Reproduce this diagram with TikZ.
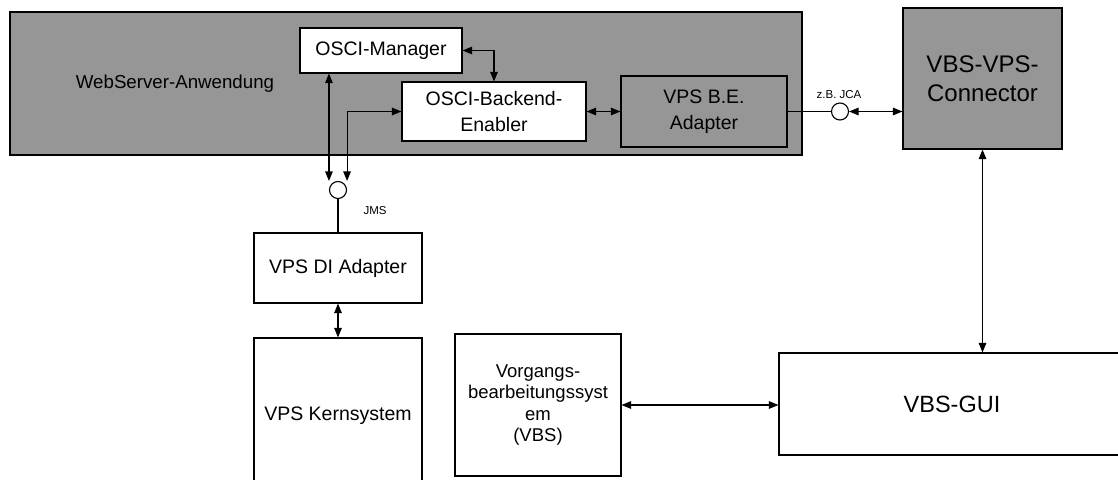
\documentclass[tikz,border=0pt]{standalone}
\usepackage{fontspec}
\setmainfont{Liberation Sans}
\usetikzlibrary{arrows.meta}
\definecolor{serverGrey}{RGB}{150,150,150}

\begin{document}
\begin{tikzpicture}[x=1pt, y=-1pt,
  box/.style={draw, line width=1.1pt, fill=white, align=center, inner sep=0pt,
    font=\fontsize{19.5}{26}\selectfont},
  greybox/.style={box, fill=serverGrey},
  conn/.style={line width=1.1pt,
    {Triangle[length=9.5pt,width=7.5pt]}-{Triangle[length=9.5pt,width=7.5pt]}},
  wire/.style={line width=1.1pt},
  iface/.style={draw, circle, line width=1.1pt, fill=white, minimum size=17pt, inner sep=0pt},
  tag/.style={inner sep=0pt, font=\fontsize{11.5}{13}\selectfont}]
\clip (0,0) rectangle (1118,479);
\fill[white] (0,0) rectangle (1118,479);

% web server application with its parts
\node[greybox, minimum width=792pt, minimum height=143pt] (server) at (406,83.5) {};
\node[inner sep=0pt, font=\fontsize{18.7}{22}\selectfont] (serverlabel) at (175,84) {WebServer-Anwendung};
\node[box, minimum width=162pt, minimum height=45pt] (manager) at (381,50.5) {OSCI-Manager};
\node[box, minimum width=184pt, minimum height=59pt] (backend) at (494,111.5) {OSCI-Backend-\\Enabler};
\node[greybox, minimum width=166pt, minimum height=71pt] (beadapter) at (704,111.5) {VPS B.E.\\Adapter};

\node[greybox, minimum width=159pt, minimum height=141pt,
  font=\fontsize{24}{29}\selectfont] (connector) at (982.5,78.5) {VBS-VPS-\\Connector};

% VPS side, the core system runs off the bottom
\node[box, minimum width=168pt, minimum height=70pt] (diadapter) at (338,268) {VPS DI Adapter};
\node[box, minimum width=168pt, minimum height=160pt] (kern) at (338,418) {\raisebox{9pt}{VPS Kernsystem}};

% VBS side
\node[box, minimum width=166pt, minimum height=142pt,
  font=\fontsize{18.5}{21.5}\selectfont] (vbs) at (538,405) {Vorgangs-\\bearbeitungssyst\\em\\(VBS)};
\node[box, minimum width=346pt, minimum height=102pt,
  font=\fontsize{23.5}{28}\selectfont] (gui) at (952,404) {VBS-GUI};

% interfaces
\node[iface] (jms) at (338,190) {};
\node[tag] (jmslabel) at (375,211) {JMS};
\node[iface] (jca) at (840,111.5) {};
\node[tag] (jcalabel) at (839,95) {z.B. JCA};

% connections
\draw[conn] (manager.south -| jms.west) -- (jms.west |- jms.north);
\draw[conn] (jms.east |- jms.north) |- (backend.west);
\draw[conn] (manager.east) -| (backend.north);
\draw[conn] (backend) -- (beadapter);
\draw[wire] (beadapter.east) -- (jca.west);
\draw[conn] (jca.east) -- (jca.east -| connector.west);
\draw[wire] (jms.south) -- (diadapter.north);
\draw[conn] (diadapter) -- (kern.north);
\draw[conn] (connector.south) -- (connector.south |- gui.north);
\draw[conn] (vbs.east) -- (vbs.east -| gui.west);
\end{tikzpicture}
\end{document}
